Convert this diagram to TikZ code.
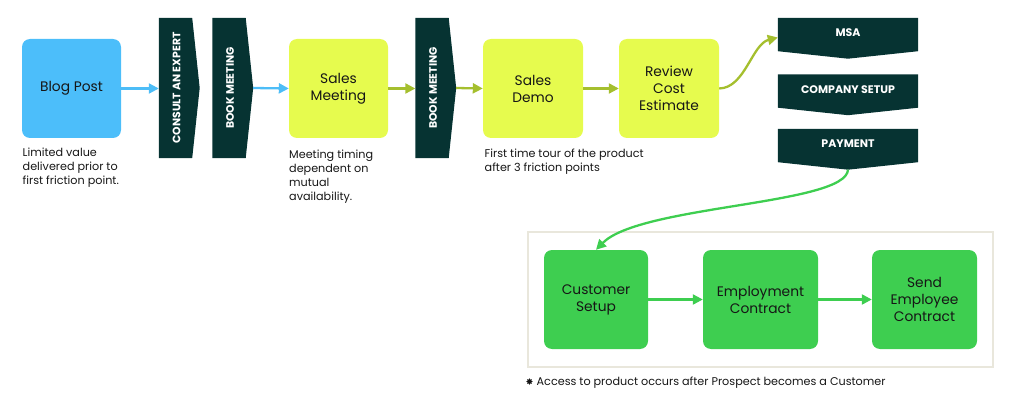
\documentclass[tikz,border=0pt]{standalone}
\usepackage{fontspec}
\setmainfont{Poppins}
\newfontfamily\symfont{DejaVu Sans}
\usetikzlibrary{arrows.meta}
\definecolor{cblue}{HTML}{4CBEFA}
\definecolor{cyellow}{HTML}{E6FB4E}
\definecolor{cdark}{HTML}{063332}
\definecolor{cgreen}{HTML}{3ECE50}
\definecolor{colive}{HTML}{A5BF2E}
\definecolor{cbarrow}{HTML}{4DBDF7}
\definecolor{cframe}{HTML}{E9E7DC}
\definecolor{ctext}{HTML}{161616}
\tikzset{
  stepbox/.style={rounded corners=8pt, minimum width=#1, inner sep=0pt, align=center,
     font=\fontsize{13.8}{17}\selectfont, text=ctext},
  vchev/.style={minimum width=33pt, minimum height=140pt, inner sep=0pt},
  hchev/.style={minimum width=140pt, minimum height=33pt, inner sep=0pt},
  chevtext/.style={text=white, font=\fontsize{10.8}{12}\selectfont\bfseries, inner sep=0pt},
  desc/.style={anchor=north west, inner sep=0pt, align=left, text=ctext,
     font=\fontsize{11.2}{14}\selectfont},
  arr/.style={line width=2.3pt, -{Triangle[length=10pt,width=10pt]}},
  barrow/.style={arr, draw=cbarrow},
  oarrow/.style={arr, draw=colive},
  garrow/.style={arr, draw=cgreen},
}
\begin{document}
\begin{tikzpicture}[x=1pt,y=-1pt]
\useasboundingbox (0,0) rectangle (1013,401);
% top row boxes
\node[stepbox=99pt, minimum height=99pt, fill=cblue] (blog) at (71.5,88.5) {Blog Post};
\node[stepbox=99pt, minimum height=99pt, fill=cyellow] (meet) at (338.5,88.5) {Sales\\Meeting};
\node[stepbox=100pt, minimum height=99pt, fill=cyellow] (demo) at (533,88.5) {Sales\\Demo};
\node[stepbox=100pt, minimum height=99pt, fill=cyellow] (cost) at (669,88.5) {Review\\Cost\\Estimate};
% vertical chevrons
\node[vchev] (c1) at (175.5,88) {};
\node[vchev] (c2) at (229,88) {};
\node[vchev] (c3) at (432,88) {};
\foreach \n/\t in {c1/CONSULT AN EXPERT, c2/BOOK MEETING, c3/BOOK MEETING}{
  \fill[cdark] (\n.north west) -- (\n.north east) -- ([xshift=7.5pt]\n.east) -- (\n.south east) -- (\n.south west) -- cycle;
  \node[chevtext, rotate=90] at ([xshift=1pt]\n) {\t};
}
\coordinate (c1tip) at ([xshift=7.5pt]c1.east);
\coordinate (c2tip) at ([xshift=7.5pt]c2.east);
\coordinate (c3tip) at ([xshift=7.5pt]c3.east);
% horizontal chevrons
\node[hchev] (msa) at (848,34.5) {};
\node[hchev] (comp) at (848,91) {};
\node[hchev] (pay) at (848,145.5) {};
\foreach \n/\t in {msa/MSA, comp/COMPANY SETUP, pay/PAYMENT}{
  \fill[cdark] (\n.north west) -- (\n.north east) -- (\n.south east) -- ([yshift=-7.5pt]\n.south) -- (\n.south west) -- cycle;
  \node[chevtext, font=\fontsize{11}{12}\selectfont\bfseries] at ([yshift=1.5pt]\n) {\t};
}
\coordinate (paytip) at ([yshift=-7.5pt]pay.south);
% bottom frame
\node[draw=cframe, line width=2.8pt, minimum width=465pt, minimum height=135pt, inner sep=0pt] (frame) at (760.5,299.5) {};
\node[stepbox=104pt, minimum height=99pt, fill=cgreen] (cust) at (596,299.5) {Customer\\Setup};
\node[stepbox=115pt, minimum height=99pt, fill=cgreen] (emp) at (760.5,299.5) {Employment\\Contract};
\node[stepbox=105pt, minimum height=99pt, fill=cgreen] (send) at (924.5,299.5) {Send\\Employee\\Contract};
% descriptions
\node[desc] (d1) at (22.5,147.5) {Limited value\\delivered prior to\\first friction point.};
\node[desc] (d2) at (289,150) {Meeting timing\\dependent on\\mutual\\availability.};
\node[desc] (d3) at (484.5,149) {First time tour of the product\\after 3 friction points};
\node[anchor=west, inner sep=0pt, text=ctext, font=\fontsize{11.2}{13}\selectfont] (note) at (525.5,383)
  {{\symfont\fontsize{9.5}{10}\selectfont ✸}\hspace{3pt}Access to product occurs after Prospect becomes a Customer};
% connectors
\draw[barrow] (blog.east) -- (c1.west |- blog.east);
\draw[barrow] (c2tip) -- (meet.west);
\draw[oarrow] (meet.east) -- (c3.west |- meet.east);
\draw[oarrow] (c3tip) -- (demo.west);
\draw[oarrow] (demo.east) -- (cost.west);
\draw[oarrow] (cost.east) .. controls (745,88) and (752,44) .. ([yshift=-3pt]msa.west);
\draw[garrow] (paytip) .. controls (846,205) and (640,205) .. (cust.north);
\draw[garrow] (cust.east) -- (emp.west);
\draw[garrow] (emp.east) -- (send.west);
\end{tikzpicture}
\end{document}
